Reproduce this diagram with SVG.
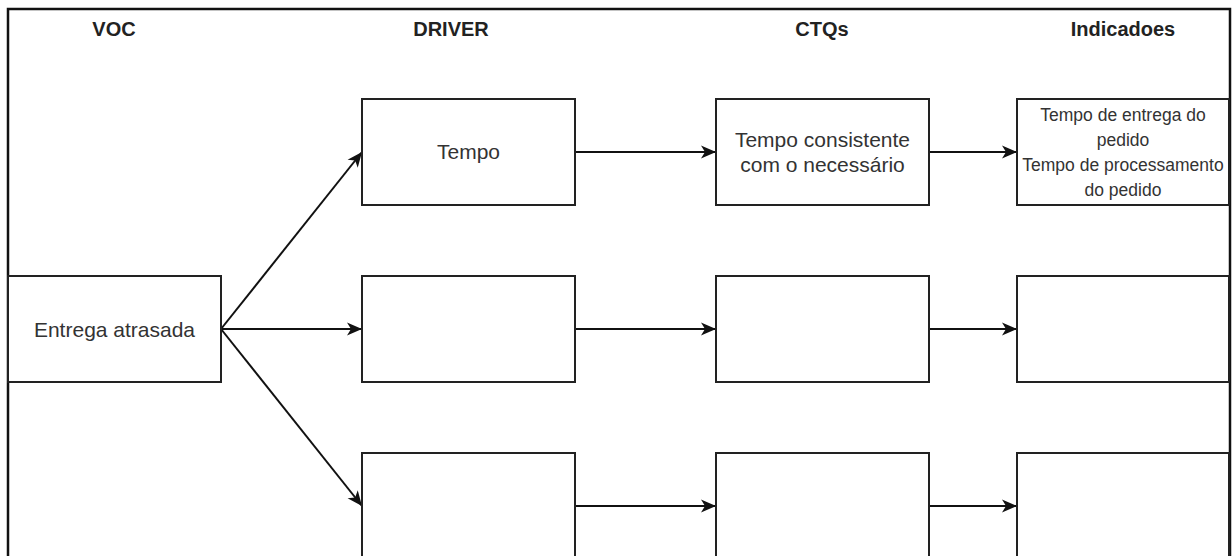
<svg xmlns="http://www.w3.org/2000/svg" width="1232" height="556" viewBox="0 0 1232 556">
  <style>
    .box { fill: #ffffff; stroke: #222222; stroke-width: 2; }
    .conn { fill: none; stroke: #111111; stroke-width: 2; }
    .hdr { font-family: "Liberation Sans", Arial, sans-serif; font-weight: bold; font-size: 20px; fill: #222222; text-anchor: middle; }
    .lbl { font-family: "Liberation Sans", Arial, sans-serif; font-size: 21px; fill: #333333; text-anchor: middle; }
    .sm { font-family: "Liberation Sans", Arial, sans-serif; font-size: 17.5px; fill: #333333; text-anchor: middle; }
  </style>
  <defs>
    <marker id="arr" markerUnits="userSpaceOnUse" markerWidth="18" markerHeight="16" refX="16" refY="8" orient="auto">
      <path d="M1,1.5 L16,8 L1,14.5 L5,8 Z" fill="#111111"/>
    </marker>
  </defs>
  <rect x="0" y="0" width="1232" height="556" fill="#ffffff"/>
  <g id="frame">
    <path d="M8,560 V9 H1230 V560" fill="none" stroke="#111111" stroke-width="2.5"/>
  </g>
  <g id="headers">
    <text class="hdr" x="114" y="36">VOC</text>
    <text class="hdr" x="451" y="36">DRIVER</text>
    <text class="hdr" x="822" y="36">CTQs</text>
    <text class="hdr" x="1123" y="36">Indicadoes</text>
  </g>
  <g id="connectors">
    <line class="conn" x1="221" y1="329" x2="362" y2="152" marker-end="url(#arr)"/>
    <line class="conn" x1="221" y1="329" x2="362" y2="329" marker-end="url(#arr)"/>
    <line class="conn" x1="221" y1="329" x2="362" y2="506" marker-end="url(#arr)"/>
    <line class="conn" x1="575" y1="152" x2="716" y2="152" marker-end="url(#arr)"/>
    <line class="conn" x1="575" y1="329" x2="716" y2="329" marker-end="url(#arr)"/>
    <line class="conn" x1="575" y1="506" x2="716" y2="506" marker-end="url(#arr)"/>
    <line class="conn" x1="929" y1="152" x2="1017" y2="152" marker-end="url(#arr)"/>
    <line class="conn" x1="929" y1="329" x2="1017" y2="329" marker-end="url(#arr)"/>
    <line class="conn" x1="929" y1="506" x2="1017" y2="506" marker-end="url(#arr)"/>
  </g>
  <g id="voc">
    <rect class="box" x="8" y="276" width="213" height="106"/>
    <text class="lbl" x="114.5" y="336.5">Entrega atrasada</text>
  </g>
  <g id="driver1">
    <rect class="box" x="362" y="99" width="213" height="106"/>
    <text class="lbl" x="468.5" y="159">Tempo</text>
  </g>
  <g id="driver2">
    <rect class="box" x="362" y="276" width="213" height="106"/>
  </g>
  <g id="driver3">
    <rect class="box" x="362" y="453" width="213" height="106"/>
  </g>
  <g id="ctq1">
    <rect class="box" x="716" y="99" width="213" height="106"/>
    <text class="lbl" x="822.5" y="147">Tempo consistente</text>
    <text class="lbl" x="822.5" y="172">com o necessário</text>
  </g>
  <g id="ctq2">
    <rect class="box" x="716" y="276" width="213" height="106"/>
  </g>
  <g id="ctq3">
    <rect class="box" x="716" y="453" width="213" height="106"/>
  </g>
  <g id="ind1">
    <rect class="box" x="1017" y="99" width="212" height="106"/>
    <text class="sm" x="1123" y="121">Tempo de entrega do</text>
    <text class="sm" x="1123" y="146">pedido</text>
    <text class="sm" x="1123" y="171">Tempo de processamento</text>
    <text class="sm" x="1123" y="195.5">do pedido</text>
  </g>
  <g id="ind2">
    <rect class="box" x="1017" y="276" width="212" height="106"/>
  </g>
  <g id="ind3">
    <rect class="box" x="1017" y="453" width="212" height="106"/>
  </g>
</svg>
